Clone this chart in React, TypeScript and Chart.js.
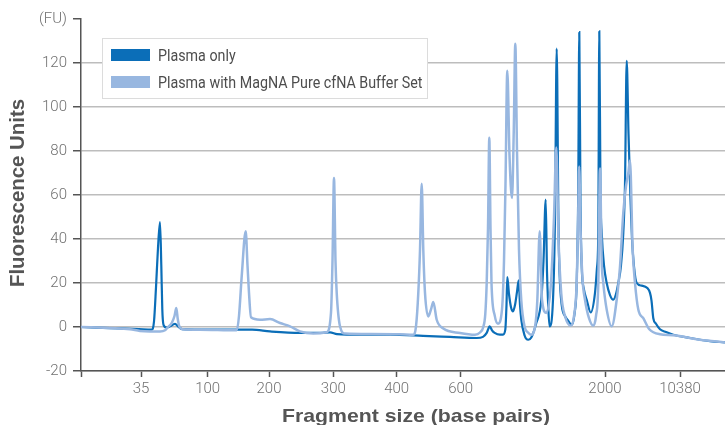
import React, { useEffect, useRef } from "react";
import { Chart, registerables } from "chart.js";

Chart.register(...registerables);

// Migration position (arbitrary units along the electropherogram) and fluorescence (FU)
const plasmaOnlyPos = [
  0, 29, 58, 70.7, 73, 75, 77, 79, 80.3, 81.3, 82.5, 85.7, 89, 94, 97, 101, 119, 171, 189, 219,
  239, 249, 256, 279, 309, 342, 369, 395.7, 402, 405.7, 408.7, 411, 413.7, 419, 422, 424.3, 425.5,
  426.3, 428, 430, 432, 434, 436, 437.7, 439, 440.3, 443.7, 445.3, 447.3, 450.3, 455.3, 460.3,
  462.5, 464.7, 466, 467, 468.5, 472, 474, 475.7, 477.5, 478.5, 480.7, 484, 487, 490.7, 493.5,
  495.7, 497.2, 498.3, 499.5, 500.7, 503, 505.7, 509.7, 514, 516, 517.3, 518.3, 519.5, 520.7, 523,
  525.7, 529, 532.3, 535, 537.3, 540, 542.3, 544, 545.7, 547.5, 549.5, 551, 553, 555.7, 560.7,
  566.3, 569, 570.5, 572.3, 575, 579, 585, 592.3, 609, 619, 629, 644,
];
const plasmaOnlyFU = [
  0, -0.5, -1, -1.2, 2.5, 18, 36, 47.7, 28, 8, 1, -0.3, 0.3, 1.4, 0.3, -1, -1.2, -1.2, -2, -2.7,
  -2.7, -2.4, -3.2, -3.5, -3.5, -4, -4.5, -5, -4.5, -2.7, 0.3, -1.5, -2.7, -3.5, -3.5, -1.2, 10,
  22.7, 15, 9, 7.1, 10, 16, 21.2, 10, 3.3, -4, -5.4, -5.8, -4.8, 1.8, 12.4,
  30, 57.9, 25, 12, 0.3, 12.4, 50, 126.5, 45, 25, 10, 5, 3, 1, 6,
  20, 60, 134, 55, 27.5, 17, 12.4, 6.6, 15.5, 27, 42.8, 134.4, 60, 42.8, 28,
  20, 14.5, 12.4, 15, 20, 28, 42.8, 65, 121, 88, 58, 40, 27.5, 20, 18.8,
  17.7, 15.5, 12, 4, 1.5, -1, -2.3, -3.5, -5, -5.8, -6.4, -7,
];

const bufferPos = [
  0, 29, 49, 59, 69, 79, 84, 87, 90.7, 93.5, 95.3, 96.8, 98.3, 101.7, 119, 155.7, 158, 160.7,
  164.7, 166.5, 168, 170, 179, 189, 199, 209, 219, 232.3, 245.7, 250, 251.5, 253, 254.5, 255.7,
  259, 264, 289, 319, 332.3, 335, 337.3, 339, 340.7, 342.3, 344, 347.3, 350, 352.3, 355.7, 362.3,
  379, 394, 399, 402.3, 404.3, 405.7, 407, 408.3, 409.5, 410.5, 413.7, 417, 421, 423, 424.5, 426.3,
  428.5, 431, 432.8, 434.3, 436, 438, 440.3, 443.7, 447, 450, 454, 456.3, 458.7, 461, 465.3, 470,
  473, 475.3, 477.5, 480.3, 484, 489.7, 493, 495.7, 497, 498.2, 499.5, 501.5, 504, 508, 512.3, 515,
  517.3, 519, 520.7, 522.3, 525.7, 530.7, 535.7, 539, 542.3, 545, 547.3, 549, 551.7, 554, 557.3,
  562.3, 568.3, 579, 592, 619, 644,
];
const bufferFU = [
  0, -0.5, -1, -1.8, -2, -2, -1.5, 0, 1.8, 5, 8.6, 3.5, 0.3, -1, -1.2, -1.5, 5, 23,
  43.5, 28, 15.5, 4.4, 3.3, 3.6, 1.8, 0.3, -2, -3, -2.4, 6.5, 30, 67.7, 30, 15.6,
  0.3, -3, -3.2, -3.3, -3.5, 0.3, 15.5, 35, 65.1, 35, 15.5, 4.8, 8, 11.4, 3.3, -0.7,
  -2.7, -3.5, -2.5, 0, 6, 20, 45, 86, 45, 20, 5.3, 1.5, 8, 30, 65, 116.5,
  78, 58.6, 90, 128.8, 80, 35, 12, 0, -2.5, -3.5, 0, 12, 43.5, 12.4, 6.4, 20,
  50, 81.6, 40, 15, 5, 0.6, 5, 20, 45, 73, 45, 22, 12.4, 4, 0.6, 5,
  20, 72, 30, 20, 7.9, 0.3, 12.4, 27.5, 52, 64, 70, 75.7, 35, 20, 7.9,
  4, -1, -3.3, -3.7, -5.8, -7,
];

const seriesNames = ["Plasma only", "Plasma with MagNA Pure cfNA Buffer Set"];
const seriesColors = ["#0b6eb8", "#98b7e0"];

const xTickPositions = [0, 60, 126.7, 188, 252.3, 315.7, 379.7, 524, 599];
const xTickLabels = ["", "35", "100", "200", "300", "400", "600", "2000", "10380"];

const yAxisTitle = "Fluorescence Units";
const xAxisTitle = "Fragment size (base pairs)";
const yUnitLabel = "(FU)";

const FONT = "Roboto, 'Liberation Sans', sans-serif";
const TITLE_FONT = "'Liberation Sans', Arial, sans-serif";

// draw text stretched along its direction so it occupies the given width
function fitText(ctx: any, text: string, x: number, y: number, width: number) {
  const w = ctx.measureText(text).width;
  ctx.save();
  ctx.translate(x, y);
  ctx.scale(width / w, 1);
  ctx.fillText(text, 0, 0);
  ctx.restore();
}

const decorPlugin = {
  id: "decor",
  afterDatasetsDraw(chart: any) {
    const ctx = chart.ctx;
    ctx.save();
    // legend box
    ctx.fillStyle = "#ffffff";
    ctx.fillRect(102, 38, 325, 60);
    ctx.strokeStyle = "#dcdcdc";
    ctx.lineWidth = 1;
    ctx.strokeRect(102.5, 38.5, 325, 60);
    ctx.font = `16px ${FONT}`;
    ctx.textBaseline = "alphabetic";
    ctx.textAlign = "left";
    const longW = ctx.measureText(seriesNames[1]).width;
    const k = 264.5 / longW;
    seriesNames.forEach((name, i) => {
      const y = 49 + i * 27;
      ctx.fillStyle = seriesColors[i];
      ctx.fillRect(111, y, 39, 12);
      ctx.fillStyle = "#4d4d4d";
      fitText(ctx, name, 158, y + 12, ctx.measureText(name).width * k);
    });
    // axis titles
    ctx.fillStyle = "#555555";
    ctx.textAlign = "left";
    ctx.textBaseline = "alphabetic";
    ctx.font = `bold 19px ${TITLE_FONT}`;
    fitText(ctx, xAxisTitle, 282, 421.5, 268);
    ctx.font = `bold 21px ${TITLE_FONT}`;
    ctx.save();
    ctx.translate(24, 287);
    ctx.rotate(-Math.PI / 2);
    fitText(ctx, yAxisTitle, 0, 0, 188);
    ctx.restore();
    ctx.restore();
  },
};

export default function App() {
  const ref = useRef<HTMLCanvasElement | null>(null);
  useEffect(() => {
    if (!ref.current) return;
    const chart = new Chart(ref.current, {
      type: "line",
      data: {
        datasets: [
          {
            label: seriesNames[1],
            data: bufferPos.map((x, i) => ({ x, y: bufferFU[i] })),
            borderColor: seriesColors[1],
            borderWidth: 2.5,
            pointRadius: 0,
            cubicInterpolationMode: "monotone",
            fill: false,
            order: 0,
          },
          {
            label: seriesNames[0],
            data: plasmaOnlyPos.map((x, i) => ({ x, y: plasmaOnlyFU[i] })),
            borderColor: seriesColors[0],
            borderWidth: 2.2,
            pointRadius: 0,
            cubicInterpolationMode: "monotone",
            fill: false,
            order: 1,
          },
        ],
      },
      options: {
        responsive: false,
        animation: false,
        devicePixelRatio: 1,
        layout: { padding: { left: 0, right: 0, top: 19, bottom: 0 } },
        plugins: { legend: { display: false }, tooltip: { enabled: false } },
        scales: {
          x: {
            type: "linear",
            min: 0,
            max: 644,
            afterFit: (s: any) => {
              s.height = 54;
            },
            afterBuildTicks: (s: any) => {
              s.ticks = xTickPositions.map((v) => ({ value: v }));
            },
            ticks: {
              autoSkip: false,
              maxRotation: 0,
              padding: 3,
              color: "#707070",
              font: { family: FONT, size: 15, weight: "300" },
              callback: (v: any) => {
                const i = xTickPositions.indexOf(Number(v));
                return i >= 0 ? xTickLabels[i] : "";
              },
            },
            grid: {
              drawOnChartArea: false,
              drawTicks: true,
              tickLength: 6,
              tickColor: "#555555",
              tickWidth: 1.5,
            },
            border: { display: true, color: "#555555", width: 1.5 },
          },
          y: {
            min: -20,
            max: 140,
            afterFit: (s: any) => {
              s.width = 81;
            },
            ticks: {
              stepSize: 20,
              padding: 6,
              color: "#707070",
              font: { family: FONT, size: 15, weight: "300" },
              callback: (v: any) => (Number(v) === 140 ? yUnitLabel : String(v)),
            },
            grid: {
              color: (c: any) => (c.tick && c.tick.value === 140 ? "rgba(0,0,0,0)" : "#bdbdbd"),
              lineWidth: 1.5,
              drawTicks: true,
              tickLength: 8,
              tickColor: "#555555",
              tickWidth: 1.5,
            },
            border: { display: true, color: "#555555", width: 1.5 },
          },
        },
      },
      plugins: [decorPlugin],
    });
    return () => chart.destroy();
  }, []);
  return (
    <div style={{ position: "fixed", left: 0, top: 0, width: 725, height: 425, background: "#fff" }}>
      <canvas ref={ref} width={725} height={425} style={{ width: 725, height: 425, display: "block" }} />
    </div>
  );
}
